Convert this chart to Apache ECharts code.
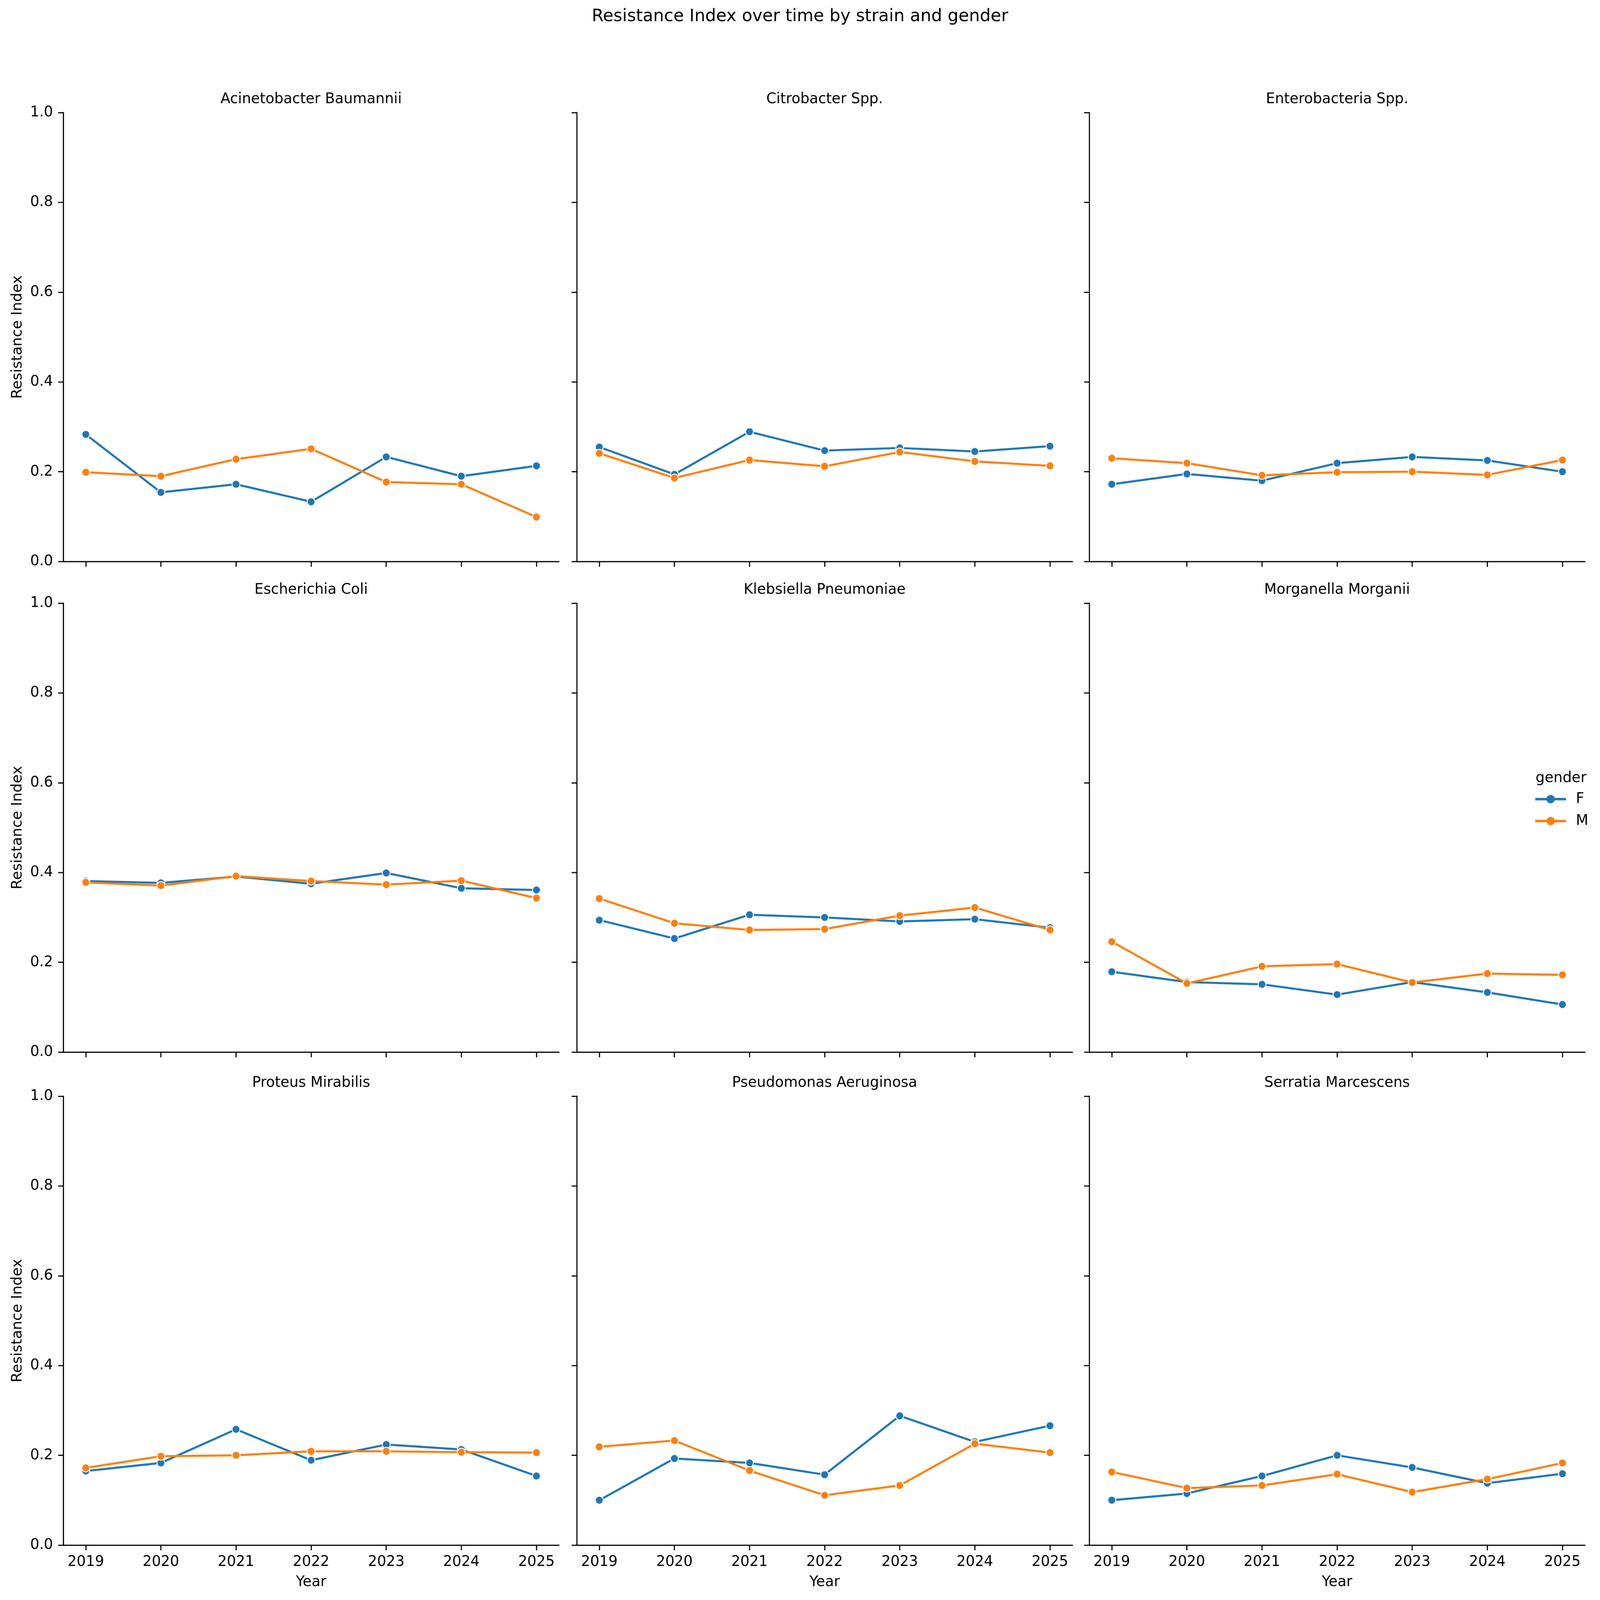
<!DOCTYPE html>
<html>
<head>
<meta charset="utf-8">
<title>Resistance Index over time by strain and gender</title>
<script src="https://cdn.jsdelivr.net/npm/echarts@6/dist/echarts.min.js"></script>
<style>
html, body { margin: 0; padding: 0; background: #fff; overflow: hidden; }
#main { width: 4680px; height: 4605px; transform-origin: 0 0; }
</style>
</head>
<body>
<div id="main"></div>
<script>
var years = [2019, 2020, 2021, 2022, 2023, 2024, 2025];
var strains = ['Acinetobacter Baumannii', 'Citrobacter Spp.', 'Enterobacteria Spp.',
               'Escherichia Coli', 'Klebsiella Pneumoniae', 'Morganella Morganii',
               'Proteus Mirabilis', 'Pseudomonas Aeruginosa', 'Serratia Marcescens'];
var genders = ['F', 'M'];

// values read per strain, F then M
var acinetobacterF = [0.283, 0.154, 0.172, 0.133, 0.233, 0.190, 0.213];
var acinetobacterM = [0.199, 0.190, 0.228, 0.251, 0.177, 0.172, 0.099];
var citrobacterF   = [0.255, 0.194, 0.289, 0.247, 0.253, 0.245, 0.257];
var citrobacterM   = [0.241, 0.186, 0.226, 0.212, 0.244, 0.223, 0.213];
var enterobacF     = [0.172, 0.195, 0.180, 0.219, 0.233, 0.225, 0.200];
var enterobacM     = [0.230, 0.219, 0.192, 0.199, 0.200, 0.193, 0.226];
var ecoliF         = [0.381, 0.377, 0.391, 0.375, 0.399, 0.365, 0.361];
var ecoliM         = [0.378, 0.371, 0.392, 0.381, 0.373, 0.382, 0.343];
var klebsiellaF    = [0.294, 0.253, 0.306, 0.300, 0.291, 0.296, 0.277];
var klebsiellaM    = [0.342, 0.287, 0.272, 0.274, 0.304, 0.322, 0.272];
var morganellaF    = [0.179, 0.156, 0.151, 0.128, 0.156, 0.133, 0.106];
var morganellaM    = [0.246, 0.153, 0.191, 0.196, 0.155, 0.175, 0.172];
var proteusF       = [0.165, 0.183, 0.258, 0.189, 0.224, 0.213, 0.154];
var proteusM       = [0.172, 0.198, 0.200, 0.209, 0.209, 0.207, 0.206];
var pseudomonasF   = [0.100, 0.193, 0.183, 0.157, 0.288, 0.230, 0.266];
var pseudomonasM   = [0.219, 0.233, 0.166, 0.111, 0.133, 0.226, 0.206];
var serratiaF      = [0.100, 0.115, 0.154, 0.200, 0.173, 0.138, 0.159];
var serratiaM      = [0.163, 0.127, 0.133, 0.158, 0.118, 0.147, 0.183];

var femaleValues = [acinetobacterF, citrobacterF, enterobacF, ecoliF, klebsiellaF,
                    morganellaF, proteusF, pseudomonasF, serratiaF];
var maleValues = [acinetobacterM, citrobacterM, enterobacM, ecoliM, klebsiellaM,
                  morganellaM, proteusM, pseudomonasM, serratiaM];

var colors = { F: '#1f77b4', M: '#ff7f0e' };
var font = 'DejaVu Sans';

// panel layout in pixels (design size 4680 x 4605)
var colLeft = [185, 1687, 3186];
var rowTop = [324, 1736, 3155];
var panelW = 1450, panelH = 1292;

// the real viewport can be smaller than the design size, so scale to fit it
var box = document.getElementById('main');
var sx = window.innerWidth / 4680, sy = window.innerHeight / 4605;
if (Math.abs(sx - 1) > 0.001 || Math.abs(sy - 1) > 0.001) {
    box.style.transform = 'scale(' + sx + ',' + sy + ')';
}

var myChart = echarts.init(box, null, { renderer: 'canvas', width: 4680, height: 4605 });

var grids = [], xAxes = [], yAxes = [], series = [];
var titles = [{
    text: 'Resistance Index over time by strain and gender',
    left: 2340, top: 23, textAlign: 'center', padding: 0,
    textStyle: { fontFamily: font, fontSize: 50, fontWeight: 'normal', color: '#000', lineHeight: 50 }
}];

function pairs(vals){
    return years.map(function(y, k){ return [y, vals[k]]; });
}

for (var i = 0; i < strains.length; i++) {
    var r = Math.floor(i / 3), c = i % 3;
    var bottomRow = (r === 2), firstCol = (c === 0);
    grids.push({ left: colLeft[c], top: rowTop[r], width: panelW, height: panelH, containLabel: false });

    titles.push({
        text: strains[i],
        left: colLeft[c] + panelW / 2, top: rowTop[r] - 59, textAlign: 'center', padding: 0,
        textStyle: { fontFamily: font, fontSize: 42, fontWeight: 'normal', color: '#000', lineHeight: 42 }
    });

    xAxes.push({
        type: 'value', gridIndex: i, min: 2018.7, max: 2025.3,
        name: bottomRow ? 'Year' : '', nameLocation: 'middle', nameGap: 86,
        nameTextStyle: { fontFamily: font, fontSize: 42, color: '#000' },
        axisLine: { show: true, onZero: false, lineStyle: { color: '#000', width: 3.3 } },
        axisTick: { show: true, length: 15, customValues: years, lineStyle: { color: '#000', width: 3.3 } },
        axisLabel: {
            show: bottomRow, customValues: years, margin: 28,
            fontFamily: font, fontSize: 42, color: '#000',
            formatter: function(v){ return String(Math.round(v)); }
        },
        splitLine: { show: false }
    });

    yAxes.push({
        type: 'value', gridIndex: i, min: 0, max: 1, interval: 0.2,
        name: firstCol ? 'Resistance Index' : '', nameLocation: 'middle', nameGap: 112,
        nameTextStyle: { fontFamily: font, fontSize: 42, color: '#000' },
        axisLine: { show: true, lineStyle: { color: '#000', width: 3.3 } },
        axisTick: { show: true, length: 15, lineStyle: { color: '#000', width: 3.3 } },
        axisLabel: {
            show: firstCol, margin: 30, fontFamily: font, fontSize: 42, color: '#000',
            formatter: function(v){ return v.toFixed(1); }
        },
        splitLine: { show: false }
    });

    [femaleValues[i], maleValues[i]].forEach(function(vals, g){
        var gname = genders[g];
        series.push({
            name: gname, type: 'line', xAxisIndex: i, yAxisIndex: i,
            data: pairs(vals),
            symbol: 'circle', symbolSize: 23, showSymbol: true,
            lineStyle: { color: colors[gname], width: 6 },
            itemStyle: { color: colors[gname], borderColor: '#fff', borderWidth: 2.5 },
            emphasis: { disabled: true },
            z: 2 + g
        });
    });
}

// legend title
titles.push({
    text: 'gender', left: 4566, top: 2219, textAlign: 'center', padding: 0,
    textStyle: { fontFamily: font, fontSize: 42, fontWeight: 'normal', color: '#000', lineHeight: 42 }
});

myChart.setOption({
    animation: false,
    backgroundColor: '#fff',
    title: titles,
    legend: {
        data: genders, orient: 'vertical', left: 4487, top: 2279,
        itemWidth: 90, itemHeight: 30, itemGap: 21, padding: 0,
        lineStyle: { width: 7 },
        itemStyle: { borderWidth: 0 },
        textStyle: { fontFamily: font, fontSize: 42, color: '#000', padding: [0, 0, 0, 24] }
    },
    grid: grids,
    xAxis: xAxes,
    yAxis: yAxes,
    series: series
});
</script>
</body>
</html>
